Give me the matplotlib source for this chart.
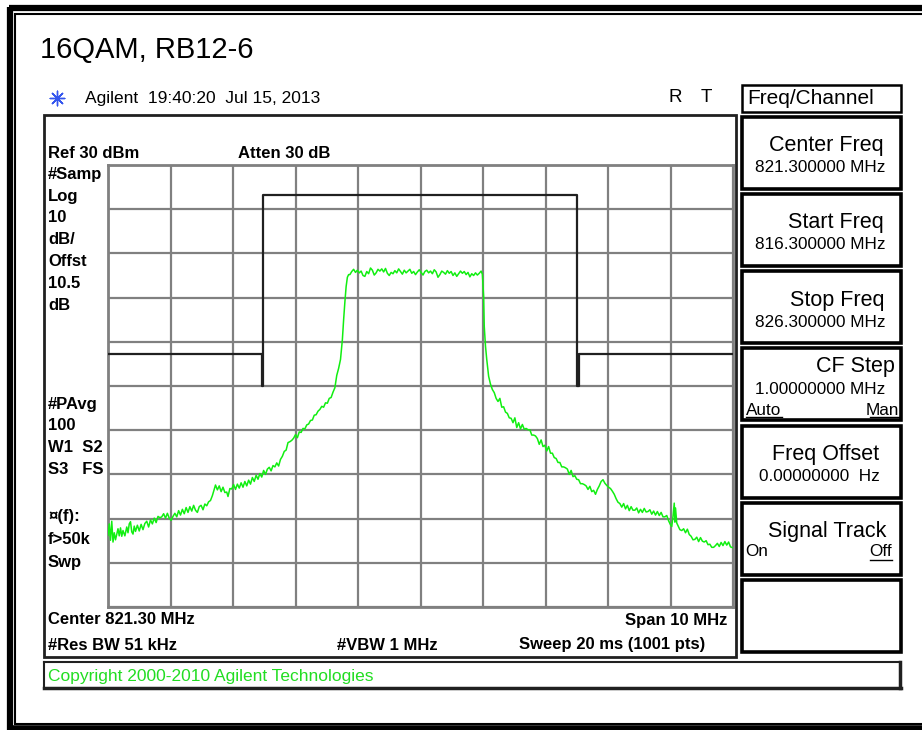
import matplotlib
matplotlib.use("Agg")
import matplotlib.pyplot as plt
from matplotlib.patches import Rectangle

plt.rcParams['font.family'] = ['Liberation Sans', 'DejaVu Sans']

# ---------------- data ----------------
title = "16QAM, RB12-6"
center_mhz = 821.30
span_mhz = 10.0
ref_dbm = 30
db_per_div = 10

trace_freq = [
    816.30, 816.32, 816.34, 816.36, 816.38, 816.40, 816.42, 816.44, 816.46, 816.48,
    816.50, 816.52, 816.54, 816.57, 816.60, 816.62, 816.64, 816.66, 816.68, 816.70,
    816.72, 816.74, 816.77, 816.80, 816.83, 816.86, 816.89, 816.92, 816.95, 816.98,
    817.01, 817.04, 817.07, 817.10, 817.13, 817.16, 817.19, 817.22, 817.25, 817.28,
    817.31, 817.34, 817.37, 817.40, 817.43, 817.46, 817.49, 817.52, 817.55, 817.58,
    817.61, 817.64, 817.67, 817.70, 817.73, 817.76, 817.79, 817.82, 817.85, 817.88,
    817.91, 817.94, 817.97, 818.00, 818.02, 818.05, 818.08, 818.11, 818.14, 818.17,
    818.20, 818.22, 818.25, 818.28, 818.31, 818.34, 818.37, 818.40, 818.43, 818.46,
    818.49, 818.52, 818.55, 818.58, 818.61, 818.64, 818.67, 818.70, 818.73, 818.76,
    818.79, 818.82, 818.85, 818.88, 818.91, 818.94, 818.97, 819.00, 819.03, 819.06,
    819.09, 819.12, 819.15, 819.18, 819.21, 819.24, 819.27, 819.30, 819.33, 819.36,
    819.39, 819.42, 819.45, 819.48, 819.51, 819.54, 819.57, 819.60, 819.63, 819.66,
    819.69, 819.72, 819.75, 819.78, 819.81, 819.84, 819.87, 819.90, 819.93, 819.96,
    819.99, 820.02, 820.05, 820.07, 820.09, 820.11, 820.13, 820.15,
    820.17, 820.20, 820.23, 820.26, 820.29, 820.32, 820.35, 820.38, 820.41, 820.44,
    820.47, 820.50, 820.53, 820.56, 820.59, 820.62, 820.65, 820.68, 820.71, 820.74,
    820.77, 820.80, 820.83, 820.86, 820.89, 820.92, 820.95, 820.98, 821.01, 821.04,
    821.07, 821.10, 821.13, 821.16, 821.19, 821.22, 821.25, 821.28, 821.31, 821.34,
    821.37, 821.40, 821.43, 821.46, 821.49, 821.52, 821.55, 821.58, 821.61, 821.64,
    821.67, 821.70, 821.73, 821.76, 821.79, 821.82, 821.85, 821.88, 821.91, 821.94,
    821.97, 822.00, 822.03, 822.06, 822.09, 822.12, 822.15, 822.18, 822.21, 822.24,
    822.27, 822.29,
    822.31, 822.32, 822.34, 822.36, 822.39, 822.42, 822.45, 822.48, 822.51, 822.54,
    822.57, 822.60, 822.63, 822.66, 822.69, 822.72, 822.75, 822.78, 822.81, 822.84,
    822.87, 822.90, 822.93, 822.96, 822.99, 823.02, 823.05, 823.08, 823.11, 823.14,
    823.17, 823.20, 823.23, 823.26, 823.29, 823.32, 823.35, 823.38, 823.41, 823.44,
    823.47, 823.50, 823.53, 823.56, 823.59, 823.62, 823.65, 823.68, 823.71, 823.74,
    823.77, 823.80, 823.83, 823.86, 823.89, 823.92, 823.95, 823.98, 824.01, 824.04,
    824.07, 824.10, 824.13, 824.16, 824.19, 824.22, 824.25, 824.28, 824.31, 824.34,
    824.37, 824.40, 824.43, 824.46, 824.49, 824.52, 824.55, 824.58, 824.61, 824.64,
    824.67, 824.70, 824.73, 824.76, 824.79, 824.82, 824.85, 824.88, 824.91, 824.94,
    824.97, 825.00, 825.03, 825.06, 825.09, 825.12, 825.15, 825.18, 825.21, 825.24,
    825.27, 825.30, 825.32, 825.34, 825.36, 825.37, 825.38, 825.40, 825.42, 825.45,
    825.48, 825.51, 825.54, 825.57, 825.60, 825.63, 825.66, 825.69, 825.72, 825.75,
    825.78, 825.81, 825.84, 825.87, 825.90, 825.93, 825.96, 825.99, 826.02, 826.05,
    826.08, 826.11, 826.14, 826.17, 826.20, 826.23, 826.26, 826.30,
]
trace_dbm = [
    -53.8, -51.2, -54.9, -50.6, -55.3, -53.2, -54.8, -53.6, -52.3, -53.9,
    -52.1, -54.0, -52.7, -53.9, -51.9, -53.2, -51.2, -50.7, -53.0, -53.5,
    -51.7, -52.9, -51.5, -52.8, -51.3, -52.5, -51.1, -50.6, -51.9, -50.3,
    -51.2, -49.9, -50.9, -49.5, -49.8, -49.6, -48.9, -49.9, -48.8, -49.9,
    -50.4, -49.5, -48.8, -49.6, -48.2, -49.2, -47.9, -48.9, -47.5, -48.6,
    -47.3, -48.3, -47.0, -48.1, -48.6, -47.3, -47.0, -48.0, -46.7, -47.1,
    -46.2, -45.9, -44.8, -43.4, -42.4, -43.5, -42.6, -43.9, -42.9, -44.1,
    -44.0, -45.0, -43.2, -43.3, -42.3, -43.4, -42.2, -43.1, -41.9, -42.9,
    -41.6, -42.6, -41.3, -42.2, -40.7, -41.6, -40.2, -41.1, -39.8, -40.6,
    -39.1, -40.0, -38.8, -38.4, -39.2, -38.0, -38.3, -37.4, -38.1, -36.6,
    -35.9, -34.8, -34.5, -32.8, -32.6, -32.3, -31.8, -31.0, -31.7, -30.4,
    -30.5, -29.6, -29.7, -28.8, -28.6, -27.8, -27.7, -26.6, -26.5, -25.7,
    -25.3, -24.6, -24.8, -23.8, -23.9, -22.8, -22.6, -21.4, -20.4, -17.6,
    -16.0, -14.0, -9.5, -5.0, -1.0, 2.5, 4.6, 5.2,
    5.2, 5.9, 6.4, 5.7, 6.2, 5.6, 6.0, 5.0, 4.8, 5.9,
    5.4, 6.7, 6.2, 5.1, 5.6, 6.4, 6.0, 6.5, 5.8, 6.6,
    5.5, 5.0, 5.7, 5.4, 6.1, 5.6, 6.5, 5.9, 5.3, 6.2,
    5.6, 6.0, 6.4, 5.5, 5.9, 5.2, 5.8, 6.3, 5.7, 5.1,
    5.9, 6.2, 5.6, 6.0, 5.4, 6.3, 5.8, 4.6, 5.2, 6.0,
    5.7, 5.3, 6.1, 5.5, 5.9, 5.0, 5.6, 4.8, 5.4, 6.0,
    5.5, 5.9, 5.2, 5.7, 4.7, 5.4, 5.0, 5.6, 5.1, 5.5,
    6.0, 5.3,
    0.3, -6.5, -11.0, -14.0, -17.8, -19.6, -20.8, -21.5, -22.8, -23.5,
    -22.8, -24.8, -24.7, -25.9, -26.2, -27.2, -27.3, -28.3, -27.2, -29.4,
    -28.3, -29.7, -28.7, -29.8, -29.6, -29.9, -29.9, -31.1, -31.1, -31.3,
    -31.9, -33.2, -32.2, -33.7, -33.4, -34.7, -33.7, -35.2, -35.2, -36.2,
    -36.4, -37.3, -37.3, -38.3, -38.3, -38.5, -38.8, -40.0, -39.1, -40.5,
    -40.3, -41.1, -41.2, -42.1, -42.1, -42.3, -42.6, -43.4, -42.7, -43.9,
    -43.6, -44.5, -43.4, -42.6, -41.6, -41.2, -42.0, -42.5, -42.9, -43.2,
    -43.8, -44.5, -45.5, -46.3, -46.6, -47.4, -46.6, -47.8, -47.0, -48.2,
    -47.3, -48.1, -48.1, -47.6, -48.7, -47.9, -48.6, -47.7, -48.5, -48.4,
    -48.0, -49.0, -48.3, -49.2, -48.4, -49.3, -48.6, -49.6, -49.6, -49.3,
    -50.5, -51.4, -51.8, -49.5, -46.5, -50.8, -47.6, -51.0, -51.6, -52.5,
    -52.7, -52.3, -53.2, -52.4, -53.6, -54.0, -54.8, -54.7, -54.2, -55.2,
    -54.3, -55.1, -55.3, -55.0, -55.9, -55.8, -56.5, -56.5, -56.1, -55.6,
    -56.3, -55.4, -56.1, -55.2, -56.0, -55.3, -56.4, -56.6,
]

mask_freq = [816.30, 818.76, 818.76, 818.78, 818.78, 823.81, 823.81, 823.84, 823.84, 826.30]
mask_dbm = [-12.8, -12.8, -20.0, -20.0, 23.3, 23.3, -20.0, -20.0, -12.8, -12.8]

left_labels = ["#Samp", "Log", "10", "dB/", "Offst", "10.5", "dB"]
left_labels2 = ["#PAvg", "100", "W1  S2", "S3   FS"]
left_labels3 = ["\u00a4(f):", "f>50k", "Swp"]

softkeys = [
    ("Center Freq", "821.300000 MHz"),
    ("Start Freq", "816.300000 MHz"),
    ("Stop Freq", "826.300000 MHz"),
    ("CF Step", "1.00000000 MHz"),
    ("Freq Offset", "0.00000000  Hz"),
    ("Signal Track", ""),
    ("", ""),
]

# ---------------- figure ----------------
W, H = 922, 730
fig = plt.figure(figsize=(W / 100, H / 100), dpi=100)
fig.patch.set_facecolor("white")

# plot area (pixels)
gx0, gx1, gy0, gy1 = 108, 733, 165, 607
ax = fig.add_axes([gx0 / W, 1 - gy1 / H, (gx1 - gx0) / W, (gy1 - gy0) / H])
f0 = center_mhz - span_mhz / 2
f1 = center_mhz + span_mhz / 2
ax.set_xlim(f0, f1)
ax.set_ylim(ref_dbm - 10 * db_per_div, ref_dbm)
ax.set_xticks([f0 + i * span_mhz / 10 for i in range(11)])
ax.set_yticks([ref_dbm - i * db_per_div for i in range(11)])
ax.grid(True, color="#808080", linewidth=1.6)
ax.tick_params(length=0, labelbottom=False, labelleft=False)
for s in ax.spines.values():
    s.set_color("#808080")
    s.set_linewidth(2.0)
ax.plot(mask_freq, mask_dbm, color="#202020", linewidth=1.6, zorder=3)
ax.plot(trace_freq, trace_dbm, color="#11ee11", linewidth=1.1, zorder=4)

# overlay in pixel coordinates
ov = fig.add_axes([0, 0, 1, 1])
ov.set_xlim(0, W)
ov.set_ylim(H, 0)
ov.axis("off")
ov.patch.set_alpha(0)


def T(x, y, s, size=11, **kw):
    kw.setdefault("va", "center")
    kw.setdefault("ha", "left")
    ov.text(x, y, s, fontsize=size, **kw)


def box(x0, y0, x1, y1, lw=2.0, color="black"):
    ov.add_patch(Rectangle((x0, y0), x1 - x0, y1 - y0, fill=False, lw=lw, ec=color))


# outer frames
ov.plot([9.5, 9.5], [7, 730], color="black", lw=4.5, solid_capstyle="butt")
ov.plot([9, 922], [7.5, 7.5], color="black", lw=4.5, solid_capstyle="butt")
ov.plot([15, 15], [13, 724], color="black", lw=1.5, solid_capstyle="butt")
ov.plot([14, 922], [13.5, 13.5], color="black", lw=1.5, solid_capstyle="butt")
ov.plot([14, 922], [723.5, 723.5], color="black", lw=1.5, solid_capstyle="butt")
ov.plot([9, 922], [727.5, 727.5], color="black", lw=4, solid_capstyle="butt")

T(40, 50, title, size=21)
# Agilent spark logo
ov.scatter([57], [98], marker=(8, 2, 0), s=110, color="#3355ee", lw=1.0)
T(85, 98, "Agilent  19:40:20  Jul 15, 2013", size=12.5)
T(668, 98, "R", size=13.5)
T(701, 98, "T", size=13.5)

# graph outer box
box(44, 115, 736, 657, lw=2.0, color="#202020")

bold = dict(fontweight="bold")
bs = 12
T(48, 153, "Ref 30 dBm", size=bs, **bold)
T(238, 153, "Atten 30 dB", size=bs, **bold)
for i, s in enumerate(left_labels):
    T(48, 174 + 22 * i, s, size=bs, **bold)
for i, s in enumerate(left_labels2):
    T(48, 404 + 22 * i, s, size=bs, **bold)
for i, s in enumerate(left_labels3):
    T(48, 517 + 22.5 * i, s, size=bs, **bold)
T(48, 620, "Center 821.30 MHz", size=bs, **bold)
T(727, 620, "Span 10 MHz", size=bs, ha="right", **bold)
T(48, 645, "#Res BW 51 kHz", size=bs, **bold)
T(337, 645, "#VBW 1 MHz", size=bs, **bold)
T(705, 645, "Sweep 20 ms (1001 pts)", size=bs, ha="right", **bold)

# copyright box
ov.plot([44, 900], [662, 662], color="#202020", lw=1.5)
ov.plot([44, 44], [662, 688], color="#202020", lw=1.5)
ov.plot([900, 900], [662, 688], color="#202020", lw=2.5)
ov.plot([44, 901], [688, 688], color="#202020", lw=2.5)
T(48, 676, "Copyright 2000-2010 Agilent Technologies", size=12.5, color="#22dd22")

# softkey panel
ts, vs = 15.5, 12.3
box(742, 85, 901, 111.5, lw=1.8)
T(747, 99, "Freq/Channel", size=15)
for i, (t1, t2) in enumerate(softkeys):
    top = 116.5 + 77.3 * i
    box(742, top, 901, top + 72, lw=2.6)
    if t1 and t2 and i != 3 and i != 4:
        T(884, top + 29, t1, size=ts, ha="right")
        T(885, top + 51, t2, size=vs, ha="right")
# CF Step
top = 116.5 + 77.3 * 3
T(895, top + 18, softkeys[3][0], size=ts, ha="right")
T(885, top + 41, softkeys[3][1], size=vs, ha="right")
T(746, top + 62, "Auto", size=vs)
T(899, top + 62, "Man", size=vs, ha="right")
ov.plot([746, 782], [top + 69, top + 69], color="black", lw=1)
ov.plot([870, 899], [top + 69, top + 69], color="black", lw=1)
# Freq Offset
top = 116.5 + 77.3 * 4
T(879, top + 29, softkeys[4][0], size=ts, ha="right")
T(880, top + 51, softkeys[4][1], size=vs, ha="right")
# Signal Track
top = 116.5 + 77.3 * 5
T(886, top + 28, softkeys[5][0], size=ts, ha="right")
T(745, top + 49, "On", size=vs)
T(892, top + 49, "Off", size=vs, ha="right")
ov.plot([870, 892], [top + 57, top + 57], color="black", lw=1)

fig.savefig("out.png", dpi=100)
